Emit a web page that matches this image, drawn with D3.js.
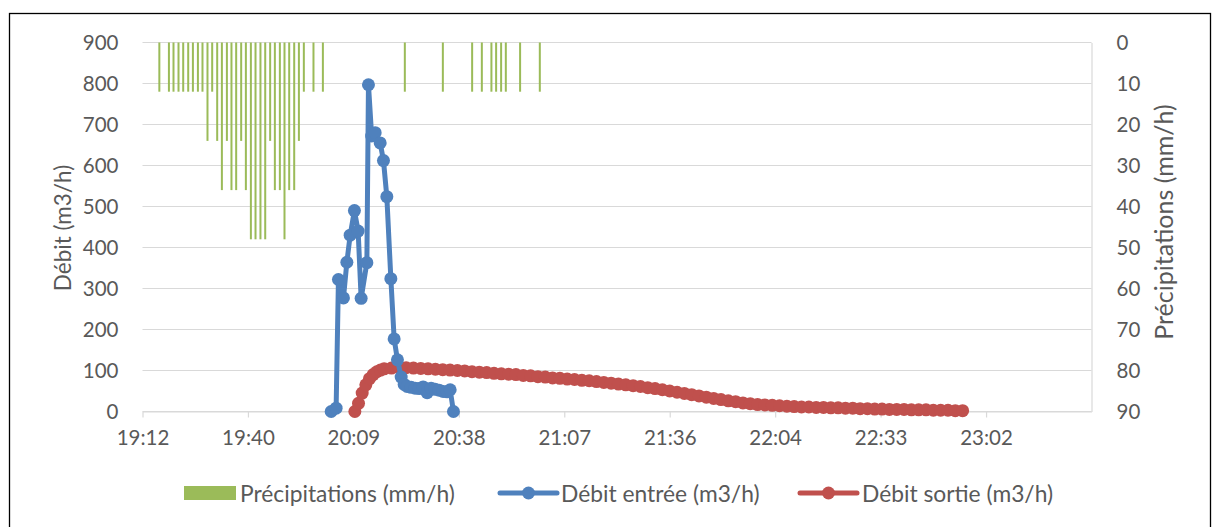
<!DOCTYPE html>
<html><head><meta charset="utf-8">
<script src="https://cdn.jsdelivr.net/npm/d3@7"></script>
<style>
body{margin:0;background:#fff}
svg{display:block}
text{font-family:Lato,'Open Sans',sans-serif;fill:#595959}
</style>
</head><body>
<svg id="chart" width="1213" height="527"></svg>
<script>
// ---------- DATA ----------
const xTickTimes = ["19:12:00","19:40:48","20:09:36","20:38:24","21:07:12","21:36:00","22:04:48","22:33:36","23:02:24"];
const xDomain = ["19:12:00","23:31:12"];
const leftTicks = [0,100,200,300,400,500,600,700,800,900];
const rightTicks = [0,10,20,30,40,50,60,70,80,90];

const precipTimes = ["19:16:36","19:19:13","19:20:28","19:21:50","19:23:07","19:24:29","19:25:46","19:27:08","19:28:23","19:29:45",
  "19:31:02","19:32:24","19:33:41","19:35:03","19:36:18","19:37:35","19:38:57","19:40:14","19:41:36","19:42:52",
  "19:44:13","19:45:31","19:46:52","19:48:09","19:49:31","19:50:47","19:52:04","19:53:26","19:54:43","19:56:04",
  "19:58:42","20:01:16","20:23:39","20:34:02","20:42:02","20:44:41","20:47:18","20:48:35","20:49:57","20:51:14",
  "20:55:08","21:00:31"];
const precipValues = [12,12,12,12,12,12,12,12,12,24,
  12,24,36,24,36,36,24,36,48,48,
  48,48,24,36,36,48,36,36,24,12,
  12,12,12,12,12,12,12,12,12,12,
  12,12];

const inflowTimes = ["20:03:32","20:04:53","20:05:31","20:06:53","20:07:49","20:08:43","20:09:53","20:10:54","20:11:43","20:13:17",
  "20:13:43","20:14:35","20:15:33","20:16:55","20:17:49","20:18:44","20:19:50","20:20:44","20:21:38","20:22:39",
  "20:23:28","20:24:17","20:25:22","20:26:28","20:27:34","20:28:39","20:29:45","20:30:50","20:31:56","20:33:01",
  "20:34:07","20:35:12","20:36:02","20:36:56"];
const inflowValues = [0,8,322,277,364,430,490,440,276,363,
  797,672,680,655,612,524,324,177,126,84,
  66,61,59,57,56,60,46,57,54,52,
  49,48,53,0];

const outflowTimes = ["20:10","20:11","20:12","20:13","20:14","20:15","20:16","20:17","20:18","20:20",
  "20:22","20:24","20:26","20:28","20:30","20:32","20:34","20:36","20:38","20:40",
  "20:42","20:44","20:46","20:48","20:50","20:52","20:54","20:56","20:58","21:00",
  "21:02","21:04","21:06","21:08","21:10","21:12","21:14","21:16","21:18","21:20",
  "21:22","21:24","21:26","21:28","21:30","21:32","21:34","21:36","21:38","21:40",
  "21:42","21:44","21:46","21:48","21:50","21:52","21:54","21:56","21:58","22:00",
  "22:02","22:04","22:06","22:08","22:10","22:12","22:14","22:16","22:18","22:20",
  "22:22","22:24","22:26","22:28","22:30","22:32","22:34","22:36","22:38","22:40",
  "22:42","22:44","22:46","22:48","22:50","22:52","22:54","22:56"];
const outflowValues = [0,20,45,65,80,90,97,101,104,106,
  107,107,106,105,104,103,102,101,100,99,
  97,96,95,93,92,91,90,88,87,85,
  84,82,81,79,78,76,75,73,71,69,
  67,65,63,61,58,56,53,50,47,44,
  41,38,35,32,29,26,24,21,19,17,
  16,15,14,13,12,11,11,10,10,9,
  9,8,8,7,7,6,6,5,5,5,
  4,4,4,3,3,3,2,2];

const legendLabels = ["Précipitations (mm/h)","Débit entrée (m3/h)","Débit sortie (m3/h)"];
const leftTitle = "Débit (m3/h)";
const rightTitle = "Précipitations (mm/h)";

// ---------- STYLE ----------
const C = {green:"#9BBB59", blue:"#4F81BD", red:"#C0504D", grid:"#D9D9D9", text:"#595959"};
const L = 142.5, R = 1091.5, T = 42.5, B = 411.5;

const parse = s => { const p = s.split(":").map(Number); return new Date(2000,0,1,p[0],p[1],p[2]||0); };

const svg = d3.select("#chart");
svg.append("rect").attr("x",9.5).attr("y",13.5).attr("width",1201).attr("height",530)
  .attr("fill","#fff").attr("stroke","#000").attr("stroke-width",1.3);

const x = d3.scaleTime().domain(xDomain.map(parse)).range([L,R]);
const y = d3.scaleLinear().domain([0,900]).range([B,T]);
const y2 = d3.scaleLinear().domain([0,90]).range([T,B]);

// gridlines
svg.append("g").selectAll("line").data(leftTicks).join("line")
  .attr("x1",L).attr("x2",R).attr("y1",d=>y(d)).attr("y2",d=>y(d))
  .attr("stroke",C.grid).attr("stroke-width",1.2);

// x axis
const gx = svg.append("g").attr("transform",`translate(0,${B})`)
  .call(d3.axisBottom(x).tickValues(xTickTimes.map(parse)).tickFormat(d3.timeFormat("%H:%M"))
    .tickSize(6).tickSizeOuter(0).tickPadding(13));
gx.select(".domain").attr("stroke",C.grid).attr("stroke-width",1.2);
gx.selectAll(".tick line").attr("stroke",C.grid).attr("stroke-width",1.2);
gx.selectAll("text").attr("font-size",20.5).attr("fill",C.text);

// left axis
const gl = svg.append("g").attr("transform",`translate(${L},0)`)
  .call(d3.axisLeft(y).tickValues(leftTicks).tickSize(0).tickPadding(24));
gl.select(".domain").remove();
gl.selectAll("text").attr("font-size",20.5).attr("fill",C.text);

// right axis
const gr = svg.append("g").attr("transform",`translate(${R},0)`)
  .call(d3.axisRight(y2).tickValues(rightTicks).tickSize(0).tickSizeOuter(0).tickPadding(25));
gr.select(".domain").attr("stroke",C.grid).attr("stroke-width",1.2);
gr.selectAll("text").attr("font-size",20.5).attr("fill",C.text);

// axis titles
svg.append("text").attr("transform","translate(62,228) rotate(-90)")
  .attr("text-anchor","middle").attr("dominant-baseline","central")
  .attr("font-size",22.5).text(leftTitle);
svg.append("text").attr("transform","translate(1163,222) rotate(-90)")
  .attr("text-anchor","middle").attr("dominant-baseline","central")
  .attr("font-size",25).text(rightTitle);

// precipitation bars
const precip = precipTimes.map((t,i)=>({t:parse(t),v:precipValues[i]}));
svg.append("g").selectAll("rect").data(precip).join("rect")
  .attr("x",d=>x(d.t)-1).attr("width",2)
  .attr("y",y2(0)).attr("height",d=>y2(d.v)-y2(0))
  .attr("fill",C.green);

function series(times, values, color){
  const data = times.map((t,i)=>({t:parse(t),v:values[i]}));
  const g = svg.append("g");
  g.append("path").datum(data)
    .attr("d",d3.line().x(d=>x(d.t)).y(d=>y(d.v)))
    .attr("fill","none").attr("stroke",color).attr("stroke-width",5)
    .attr("stroke-linejoin","round").attr("stroke-linecap","round");
  g.selectAll("circle").data(data).join("circle")
    .attr("cx",d=>x(d.t)).attr("cy",d=>y(d.v)).attr("r",6.5).attr("fill",color);
}
series(outflowTimes, outflowValues, C.red);
series(inflowTimes, inflowValues, C.blue);

// legend
const ly = 493;
const lg = svg.append("g");
lg.append("rect").attr("x",184).attr("y",ly-7).attr("width",52).attr("height",14).attr("fill",C.green);
lg.append("text").attr("x",240).attr("y",ly).attr("dominant-baseline","central").attr("font-size",22.8).text(legendLabels[0]);
[[500,C.blue,legendLabels[1],561],[800,C.red,legendLabels[2],862]].forEach(([lx,col,lab,tx])=>{
  lg.append("line").attr("x1",lx).attr("x2",lx+57).attr("y1",ly).attr("y2",ly)
    .attr("stroke",col).attr("stroke-width",5).attr("stroke-linecap","round");
  lg.append("circle").attr("cx",lx+28.5).attr("cy",ly).attr("r",6.5).attr("fill",col);
  lg.append("text").attr("x",tx).attr("y",ly).attr("dominant-baseline","central").attr("font-size",22.8).text(lab);
});
</script>
</body></html>
